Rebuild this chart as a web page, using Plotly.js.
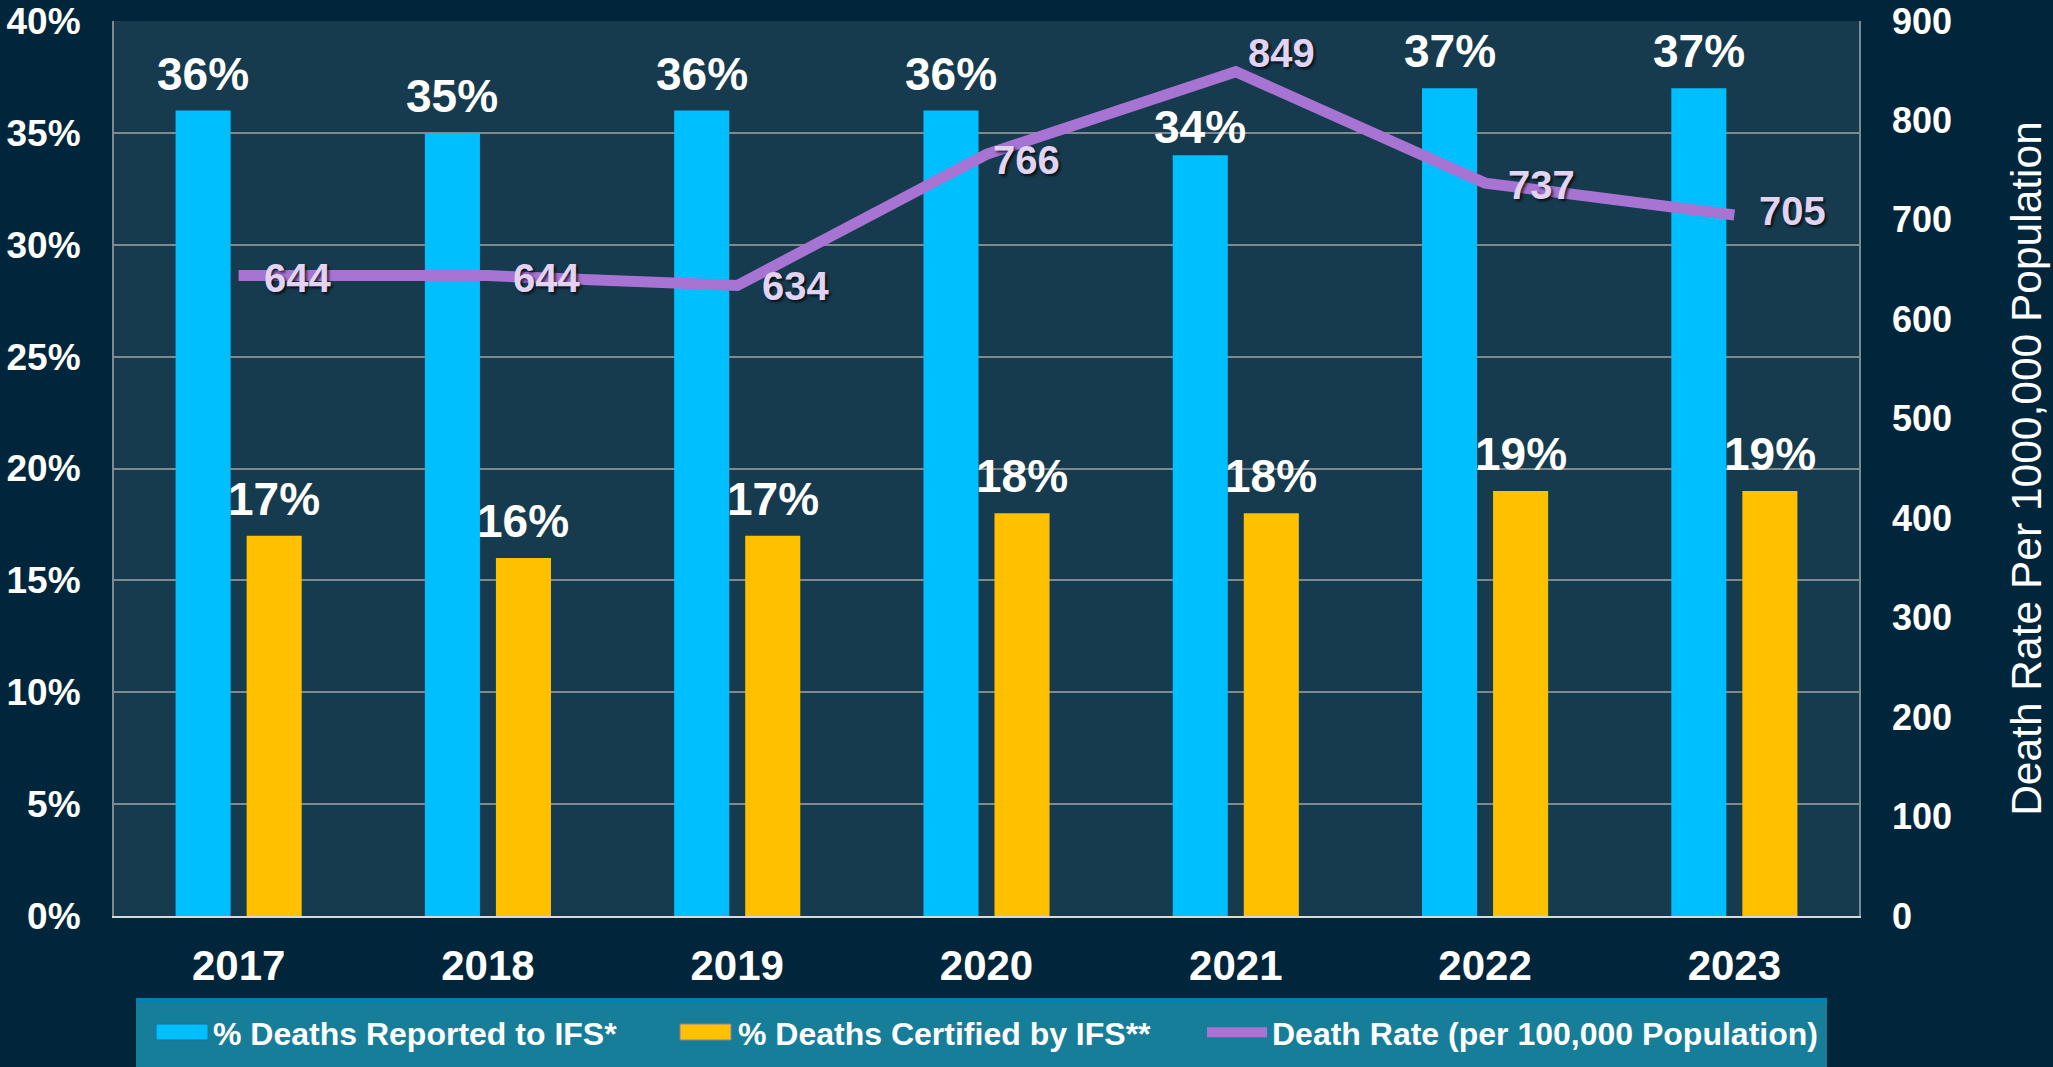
<!DOCTYPE html>
<html>
<head>
<meta charset="utf-8">
<script src="https://cdn.plot.ly/plotly-3.0.1.min.js"></script>
<style>
  html, body { margin: 0; padding: 0; background: #01263b; }
  #chart { width: 2053px; height: 1067px; }
</style>
</head>
<body>
<div id="chart"></div>
<script>
// ---- Data ----
const years = ['2017', '2018', '2019', '2020', '2021', '2022', '2023'];
const pctReported = [36, 35, 36, 36, 34, 37, 37];
const pctCertified = [17, 16, 17, 18, 18, 19, 19];
const deathRate = [644, 644, 634, 766, 849, 737, 705];
const leftTicks = [0, 5, 10, 15, 20, 25, 30, 35, 40];
const rightTicks = [0, 100, 200, 300, 400, 500, 600, 700, 800, 900];

const seriesNames = [
  '% Deaths Reported to IFS*',
  '% Deaths Certified by IFS**',
  'Death Rate (per 100,000 Population)'
];
const rightAxisTitle = 'Death Rate Per 1000,000 Population';

// ---- Style / geometry ----
const FONT = 'Liberation Sans, Arial, sans-serif';
const W = 2053, H = 1067;
const plotL = 114, plotR = 1859, plotT = 21, plotB = 916;
const pw = plotR - plotL, ph = plotB - plotT;
const px = (X) => (X - plotL) / pw;
const py = (Y) => (plotB - Y) / ph;

const BARGAP = 0.43, BARGROUPGAP = 0.225;
const catW = pw / years.length;
const slotW = (1 - BARGAP) * catW / 2;
const barOffset = slotW / 2;             // distance from category centre to each bar centre

// label offsets (px)
const rateLabelOffsets = [[23, -2], [23, -2], [23, 0], [4, -6], [10, 19], [21, -2], [23, 4]];
const reportedLabelLift = [37, 37, 37, 37, 28, 37, 37];
const certifiedLabelLift = [37, 37, 37, 37, 37, 37, 37];

const COL_CYAN = '#00bfff', COL_GOLD = '#ffc000', COL_LINE = '#a874d4';

const traces = [
  {
    type: 'bar', name: seriesNames[0], x: years, y: pctReported,
    marker: { color: COL_CYAN },
    legendwidth: 450,
    hoverinfo: 'x+y'
  },
  {
    type: 'bar', name: seriesNames[1], x: years, y: pctCertified,
    marker: { color: COL_GOLD },
    legendwidth: 459,
    hoverinfo: 'x+y'
  },
  {
    type: 'scatter', mode: 'lines', name: seriesNames[2], x: years, y: deathRate,
    yaxis: 'y2',
    line: { color: COL_LINE, width: 11, shape: 'linear' },
    cliponaxis: false,
    legendwidth: 600,
    hoverinfo: 'x+y'
  }
];

const barLabelFont = { family: FONT, size: 46, color: '#ffffff', weight: 'bold' };
const annotations = [];
pctReported.forEach((v, i) => annotations.push({
  x: i, y: v, xref: 'x', yref: 'y', text: v + '%', showarrow: false,
  xanchor: 'center', yanchor: 'middle', xshift: -barOffset, yshift: reportedLabelLift[i], font: barLabelFont
}));
pctCertified.forEach((v, i) => annotations.push({
  x: i, y: v, xref: 'x', yref: 'y', text: v + '%', showarrow: false,
  xanchor: 'center', yanchor: 'middle', xshift: barOffset, yshift: certifiedLabelLift[i], font: barLabelFont
}));
deathRate.forEach((v, i) => annotations.push({
  x: i, y: v, xref: 'x', yref: 'y2',
  text: String(v), showarrow: false,
  xanchor: 'left', yanchor: 'middle',
  xshift: rateLabelOffsets[i][0], yshift: rateLabelOffsets[i][1],
  font: { family: FONT, size: 40, color: '#e2d3f3', weight: 'bold', shadow: '2px 2px 3px rgba(0,0,0,0.75)' }
}));

// legend panel + large legend swatches (native swatches sit on top, same colour)
const shapes = [
  { type: 'rect', xref: 'paper', yref: 'paper', layer: 'below',
    x0: px(136), x1: px(1827), y0: py(1075), y1: py(998),
    fillcolor: '#177e9a', line: { width: 0 } },
  { type: 'rect', xref: 'paper', yref: 'paper', layer: 'below',
    x0: px(136), x1: px(1827), y0: py(1003), y1: py(998),
    fillcolor: '#0280b2', line: { width: 0 } },
  { type: 'rect', xref: 'paper', yref: 'paper', layer: 'above',
    x0: px(156), x1: px(208), y0: py(1040), y1: py(1024),
    fillcolor: COL_CYAN, line: { color: '#1a6f96', width: 1 } },
  { type: 'rect', xref: 'paper', yref: 'paper', layer: 'above',
    x0: px(680), x1: px(731), y0: py(1040), y1: py(1024),
    fillcolor: COL_GOLD, line: { color: '#8e7fa6', width: 1 } }
];

const layout = {
  width: W, height: H,
  margin: { l: plotL, r: W - plotR, t: plotT, b: H - plotB, pad: 0 },
  paper_bgcolor: '#01263b',
  plot_bgcolor: '#173b4e',
  font: { family: FONT, color: '#ffffff' },
  barmode: 'group',
  bargap: BARGAP,
  bargroupgap: BARGROUPGAP,
  showlegend: true,
  legend: {
    orientation: 'h',
    xref: 'paper', x: px(143), xanchor: 'left',
    yref: 'container', y: (H - 1005) / H, yanchor: 'top',
    bgcolor: 'rgba(0,0,0,0)',
    font: { family: FONT, size: 32, color: '#ffffff', weight: 'bold' },
    itemwidth: 60,
    traceorder: 'normal'
  },
  xaxis: {
    type: 'category',
    range: [-0.5, years.length - 0.5],
    autorange: false,
    tickfont: { family: FONT, size: 42, color: '#ffffff', weight: 'bold' },
    ticks: '', ticklabelstandoff: 12,
    showline: true, linecolor: '#d9d9d9', linewidth: 2,
    showgrid: false, zeroline: false
  },
  yaxis: {
    range: [0, 40],
    tickvals: leftTicks,
    ticktext: leftTicks.map(t => t + '%'),
    tickfont: { family: FONT, size: 37, color: '#ffffff', weight: 'bold' },
    ticks: '', ticklabelstandoff: 24,
    showgrid: true, gridcolor: '#7d8a90', gridwidth: 2,
    showline: true, mirror: true, linecolor: '#7d8a90', linewidth: 2,
    zeroline: false
  },
  yaxis2: {
    overlaying: 'y', side: 'right',
    range: [0, 900],
    tickvals: rightTicks,
    tickfont: { family: FONT, size: 36, color: '#ffffff', weight: 'bold' },
    ticks: '', ticklabelstandoff: 32,
    showgrid: false, zeroline: false, showline: false,
    title: { text: rightAxisTitle, font: { family: FONT, size: 42.5, color: '#ffffff' }, standoff: 60 }
  },
  annotations: annotations,
  shapes: shapes
};

Plotly.newPlot('chart', traces, layout, { displayModeBar: false, staticPlot: true });
</script>
</body>
</html>
